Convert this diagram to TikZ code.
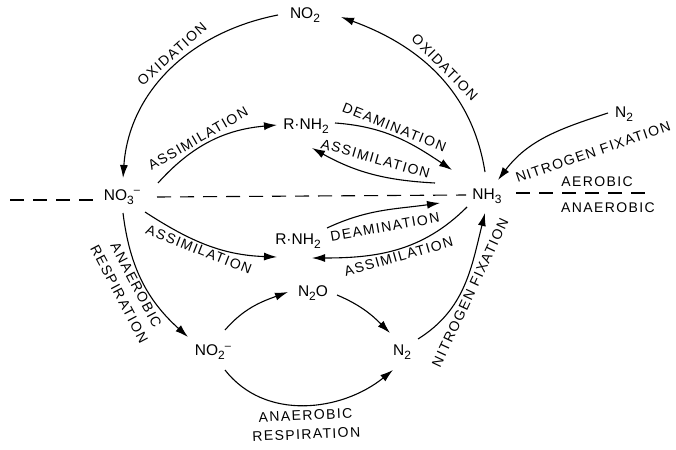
\documentclass[tikz,border=0pt]{standalone}
\usepackage{fontspec}
\setmainfont{Liberation Sans}
\newfontfamily\tagfont[LetterSpace=10]{Liberation Sans}
\usetikzlibrary{arrows.meta}

\newcommand{\nsub}[1]{\raisebox{-.45ex}{\fontsize{12}{12}\selectfont #1}}
\newcommand{\nsup}[1]{\raisebox{.8ex}{\fontsize{11}{11}\selectfont #1}}

\begin{document}
\begin{tikzpicture}[x=1pt,y=1pt,
   chem/.style={inner sep=2pt,font=\fontsize{15.5}{15.5}\selectfont},
   tag/.style={inner sep=1pt,align=center,font=\tagfont\fontsize{14}{19}\selectfont},
   lbl/.style={tag,sloped},
   arr/.style={-{Latex[length=13pt,width=8pt]},line width=1.1pt}]

\tikzset{divide/.style={line width=1.1pt,dash pattern=on 14pt off 9pt}}

\useasboundingbox (0,0) rectangle (676,-449);

\node[chem] (no2t) at (305,-15) {NO\nsub{2}};
\node[chem] (no3) at (122,-197) {NO\nsub{3}\nsup{--}};
\node[chem] (rnh2a) at (306,-126) {R·NH\nsub{2}};
\node[chem] (nh3) at (487,-196) {NH\nsub{3}};
\node[chem] (n2t) at (624,-114) {N\nsub{2}};
\node[chem] (rnh2b) at (298,-241) {R·NH\nsub{2}};
\node[chem] (n2o) at (313,-293) {N\nsub{2}O};
\node[chem] (no2m) at (213,-352) {NO\nsub{2}\nsup{--}};
\node[chem] (n2b) at (402,-352) {N\nsub{2}};
\node[tag] (aer) at (597,-182) {AEROBIC};
\node[tag] (anaer) at (608,-208) {ANAEROBIC};

% aerobic / anaerobic boundary
\coordinate (dl) at (10,-200);
\coordinate (dr) at (651,-193);
\draw[divide] (dl) -- ([shift={(-24,-3)}]no3.center);
\draw[divide] ([shift={(35,0)}]no3.center) -- ([shift={(-21,1)}]nh3.center);
\draw[divide] ([shift={(29,3)}]nh3.center) -- (dr);

% oxidation
\draw[arr] ([shift={(-2,24)}]nh3.center) to[out=99,in=-20]
   node[lbl,above=4pt] (ox1) {OXIDATION} ([shift={(36,-2)}]no2t.center);
\draw[arr] ([shift={(-27,0)}]no2t.center) to[out=191,in=86]
   node[lbl,pos=.45,above=4pt] (ox2) {OXIDATION} ([shift={(1,19)}]no3.center);

% upper half
\draw[arr] ([shift={(36,14)}]no3.center) to[out=48,in=185]
   node[lbl,pos=.42,above=2pt] (as1) {ASSIMILATION} ([shift={(-29,1)}]rnh2a.center);
\draw[arr] ([shift={(29,3)}]rnh2a.center) to[out=-4,in=146]
   node[lbl,pos=.45,above=2pt] (de1) {DEAMINATION} ([shift={(-35,26)}]nh3.center);
\draw[arr] ([shift={(-52,13)}]nh3.center) to[out=177,in=-29]
   node[lbl,above=9pt] (as2) {ASSIMILATION} ([shift={(6,-22)}]rnh2a.center);
\draw[arr] ([shift={(-16,1)}]n2t.center) to[out=198,in=53] ([shift={(11,16)}]nh3.center);
\node[tag,rotate=19] (fx1) at (593,-152) {NITROGEN FIXATION};

% lower half
\draw[arr] ([shift={(23,-15)}]no3.center) to[out=-33,in=178]
   node[lbl,pos=.45,below=1pt] (as3) {ASSIMILATION} ([shift={(-21,-16)}]rnh2b.center);
\draw[arr] ([shift={(29,13)}]rnh2b.center) to[out=25,in=188]
   node[lbl,below=10pt] (de2) {DEAMINATION} ([shift={(-47,-7)}]nh3.center);
\draw[arr] ([shift={(-20,-11)}]nh3.center) to[out=225,in=0]
   node[lbl,below=1pt] (as4) {ASSIMILATION} ([shift={(14,-17)}]rnh2b.center);
\draw[arr] ([shift={(1,-16)}]no3.center) to[out=-83,in=138]
   node[lbl,below=1pt] (an1) {ANAEROBIC\\RESPIRATION} ([shift={(-25,15)}]no2m.center);
\draw[arr] ([shift={(12,22)}]no2m.center) to[out=49,in=200] ([shift={(-25,1)}]n2o.center);
\draw[arr] ([shift={(24,-2)}]n2o.center) to[out=-23,in=135] ([shift={(-12,19)}]n2b.center);
\draw[arr] ([shift={(12,-18)}]no2m.center) to[out=-52,in=219]
   node[lbl,below=4pt] (an2) {ANAEROBIC\\RESPIRATION} ([shift={(-9,-18)}]n2b.center);
\draw[arr] ([shift={(16,13)}]n2b.center) to[out=32,in=-104]
   node[lbl,pos=.47,below=2pt] (fx2) {NITROGEN FIXATION} ([shift={(-2,-17)}]nh3.center);

\end{tikzpicture}
\end{document}
